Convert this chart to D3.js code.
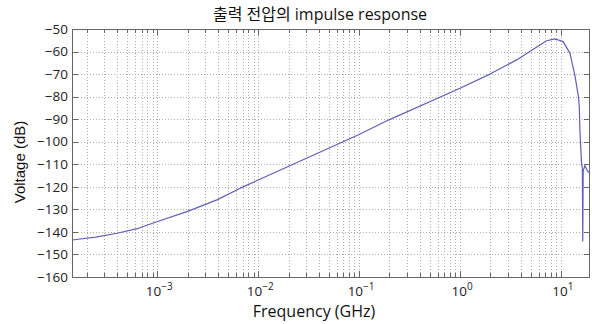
<!DOCTYPE html>
<html>
<head>
<meta charset="utf-8">
<script src="https://cdn.jsdelivr.net/npm/d3@7"></script>
<style>
  body { margin: 0; background: #fff; }
  svg { display: block; }
</style>
</head>
<body>
<div id="chart"></div>
<script>
"use strict";

// frequency (GHz) and voltage (dB)
const freq = [1.43e-4, 2.45e-4, 4.0e-4, 6.5e-4, 9.9e-4, 1.97e-3, 3.9e-3, 6.64e-3, 1.0e-2,
              0.1, 0.195, 1.0, 1.98, 3.64, 5.32, 7.21, 8.73, 10.5, 12.3, 13.8, 14.9, 15.2,
              15.4, 16.0, 16.3, 16.45, 16.6, 17.3, 18.3, 19.4];
const volt = [-143.6, -142.3, -140.6, -138.4, -135.5, -131.0, -125.8, -120.6, -117.0,
              -96.8, -90.4, -76.3, -70.0, -63.7, -59.0, -55.2, -54.4, -55.6, -60.8, -71.0, -80.0, -84.5,
              -94.8, -109.6, -112.0, -144.0, -113.0, -110.5, -113.0, -114.0];

const yTicks = [-50, -60, -70, -80, -90, -100, -110, -120, -130, -140, -150, -160];
const xDecades = [-3, -2, -1, 0, 1];

const title = "출력 전압의 impulse response";
const xLabel = "Frequency (GHz)";
const yLabel = "Voltage (dB)";


const width = 592;
const height = 324;
const margin = ({top: 29, right: 2, bottom: 47, left: 72});

const x = d3.scaleLog()
    .domain([1.43e-4, 19.4])
    .range([margin.left, width - margin.right]);

const y = d3.scaleLinear()
    .domain([-160, -50])
    .range([height - margin.bottom, margin.top]);

// minor ticks 2..9 in every decade inside the domain
const minor = [];
for (let d = -4; d <= 1; d++) {
    for (let k = 2; k <= 9; k++) {
        const v = k * Math.pow(10, d);
        if (v > x.domain()[0] && v < x.domain()[1]) minor.push(v);
    }
}
const major = xDecades.map(d => Math.pow(10, d));

const svg = d3.select("#chart").append("svg")
    .attr("width", width)
    .attr("height", height);

const x0 = margin.left, x1 = width - margin.right;
const y0 = margin.top, y1 = height - margin.bottom;

// dotted grid
const grid = svg.append("g")
    .attr("stroke", "#acacac")
    .attr("stroke-width", 1)
    .attr("stroke-dasharray", "1,2");

grid.selectAll("line.gx")
    .data(minor.concat(major))
    .join("line")
        .attr("class", "gx")
        .attr("x1", d => Math.round(x(d)) + 0.5)
        .attr("x2", d => Math.round(x(d)) + 0.5)
        .attr("y1", y0)
        .attr("y2", y1);

grid.selectAll("line.gy")
    .data(yTicks.slice(1, -1))
    .join("line")
        .attr("class", "gy")
        .attr("x1", x0)
        .attr("x2", x1)
        .attr("y1", d => Math.round(y(d)) + 0.5)
        .attr("y2", d => Math.round(y(d)) + 0.5);

// ticks inside on all four sides
const ticks = svg.append("g")
    .attr("stroke", "#666")
    .attr("stroke-width", 1);

const xt = minor.map(d => ({v: d, len: 4})).concat(major.map(d => ({v: d, len: 6})));

ticks.selectAll("line.tb")
    .data(xt)
    .join("line")
        .attr("class", "tb")
        .attr("x1", d => Math.round(x(d.v)) + 0.5)
        .attr("x2", d => Math.round(x(d.v)) + 0.5)
        .attr("y1", y1)
        .attr("y2", d => y1 - d.len);

ticks.selectAll("line.tt")
    .data(xt)
    .join("line")
        .attr("class", "tt")
        .attr("x1", d => Math.round(x(d.v)) + 0.5)
        .attr("x2", d => Math.round(x(d.v)) + 0.5)
        .attr("y1", y0)
        .attr("y2", d => y0 + d.len);

ticks.selectAll("line.tl")
    .data(yTicks)
    .join("line")
        .attr("class", "tl")
        .attr("x1", x0)
        .attr("x2", x0 + 6)
        .attr("y1", d => Math.round(y(d)) + 0.5)
        .attr("y2", d => Math.round(y(d)) + 0.5);

ticks.selectAll("line.tr")
    .data(yTicks)
    .join("line")
        .attr("class", "tr")
        .attr("x1", x1)
        .attr("x2", x1 - 6)
        .attr("y1", d => Math.round(y(d)) + 0.5)
        .attr("y2", d => Math.round(y(d)) + 0.5);

// box
svg.append("rect")
    .attr("x", x0 + 0.5)
    .attr("y", y0 + 0.5)
    .attr("width", x1 - x0 - 1)
    .attr("height", y1 - y0)
    .attr("fill", "none")
    .attr("stroke", "#666");

// curve (plain straight segments between the read points)
const line = d3.line()
    .x((d, i) => x(freq[i]))
    .y(d => y(d));

svg.append("path")
    .datum(volt)
    .attr("fill", "none")
    .attr("stroke", "#5f5fb6")
    .attr("stroke-width", 1.2)
    .attr("stroke-linejoin", "round")
    .attr("d", line);

// y tick labels
svg.append("g")
    .style("font", "13.5px 'Open Sans', sans-serif")
    .attr("fill", "#222")
    .attr("text-anchor", "end")
  .selectAll("text")
  .data(yTicks)
  .join("text")
    .attr("x", x0 - 4)
    .attr("y", d => y(d))
    .attr("dy", "0.35em")
    .text(d => "\u2212" + Math.abs(d));

// x tick labels 10^n
const xl = svg.append("g")
    .style("font", "13.5px 'Open Sans', sans-serif")
    .attr("fill", "#222")
  .selectAll("text")
  .data(xDecades)
  .join("text")
    .attr("x", d => x(Math.pow(10, d)) + 2)
    .attr("y", 296)
    .attr("text-anchor", "middle");

xl.append("tspan").text("10");
xl.append("tspan")
    .attr("dy", -6)
    .style("font-size", "10px")
    .text(d => d < 0 ? "\u2212" + Math.abs(d) : String(d));

// title and axis labels
svg.append("text")
    .attr("x", 320)
    .attr("y", 20)
    .attr("text-anchor", "middle")
    .style("font", "16px 'Open Sans', 'Noto Sans CJK KR', sans-serif")
    .attr("fill", "#111")
    .text(title);

svg.append("text")
    .attr("x", 314)
    .attr("y", 317)
    .attr("text-anchor", "middle")
    .style("font", "16px 'Open Sans', sans-serif")
    .attr("fill", "#111")
    .text(xLabel);

svg.append("text")
    .attr("transform", "translate(25,162) rotate(-90)")
    .attr("text-anchor", "middle")
    .style("font", "15px 'Liberation Sans', Arial, sans-serif")
    .attr("fill", "#111")
    .text(yLabel);
</script>
</body>
</html>
